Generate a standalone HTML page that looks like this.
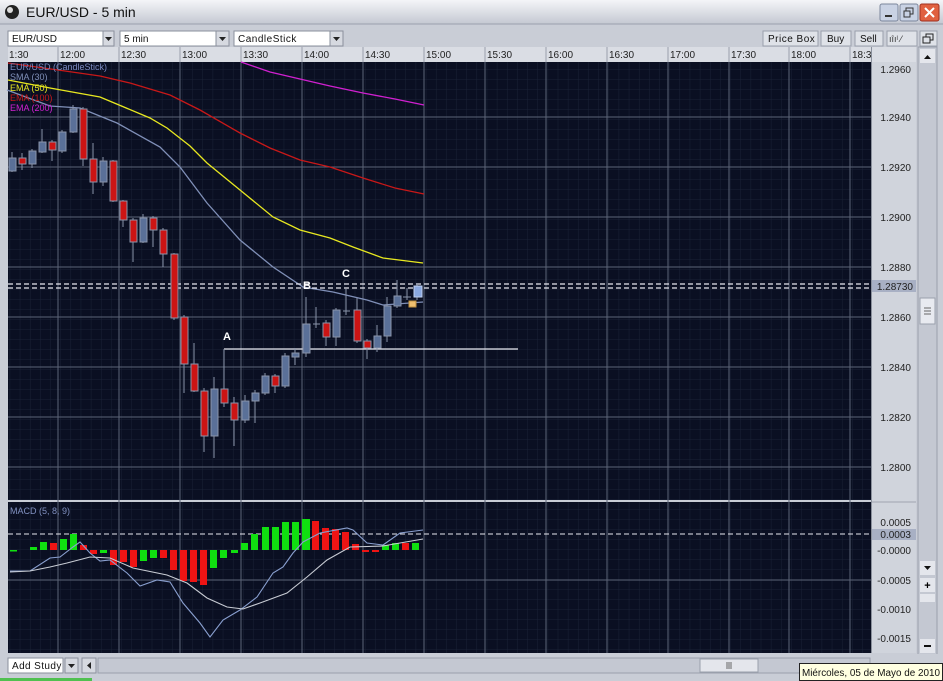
<!DOCTYPE html>
<html><head><meta charset="utf-8"><style>
body{margin:0;width:943px;height:681px;overflow:hidden;background:#c9cdd6;font-family:"Liberation Sans",sans-serif}
svg{display:block}
</style></head><body>
<svg width="943" height="681" xmlns="http://www.w3.org/2000/svg" font-family="Liberation Sans, sans-serif">
<defs>
<linearGradient id="tb" x1="0" y1="0" x2="0" y2="1"><stop offset="0" stop-color="#f4f5f8"/><stop offset="1" stop-color="#c4c8d2"/></linearGradient>
<pattern id="fg" width="10.15" height="10" patternUnits="userSpaceOnUse"><path d="M10.15 0V10M0 10H10.15" stroke="#1a2236" stroke-width="1"/></pattern>
</defs>
<rect width="943" height="681" fill="#c9cdd6"/>
<rect x="0" y="0" width="943" height="24" fill="url(#tb)"/>
<line x1="0" y1="24" x2="943" y2="24" stroke="#9aa0ad"/>
<circle cx="12" cy="12" r="7" fill="#222"/><circle cx="10" cy="10" r="3" fill="#ddd"/>
<text x="26" y="17" font-size="14" fill="#111">EUR/USD - 5 min</text>
<rect x="880" y="4" width="18" height="17" rx="2" fill="#c9d2e4" stroke="#7c879c"/><rect x="885" y="15" width="7" height="2" fill="#333"/>
<rect x="900" y="4" width="18" height="17" rx="2" fill="#c9d2e4" stroke="#7c879c"/><rect x="906" y="8" width="7" height="6" fill="none" stroke="#333"/><rect x="904" y="11" width="6" height="6" fill="#c9d2e4" stroke="#333"/>
<rect x="920" y="4" width="19" height="17" rx="2" fill="#e06040" stroke="#a03020"/><path d="M925 8L934 17M934 8L925 17" stroke="#fff" stroke-width="2"/>
<rect x="0" y="26" width="943" height="20" fill="#c9cdd6"/>
<rect x="8" y="31" width="95" height="15" fill="#fff" stroke="#8a909c"/><text x="12" y="42" font-size="10" fill="#111">EUR/USD</text>
<rect x="103" y="31" width="11" height="15" fill="#d6d9e0" stroke="#8a909c"/><path d="M105 37h7l-3.5 4z" fill="#222"/>
<rect x="120" y="31" width="96" height="15" fill="#fff" stroke="#8a909c"/><text x="124" y="42" font-size="10" fill="#111">5 min</text>
<rect x="216" y="31" width="13" height="15" fill="#d6d9e0" stroke="#8a909c"/><path d="M219 37h7l-3.5 4z" fill="#222"/>
<rect x="234" y="31" width="96" height="15" fill="#fff" stroke="#8a909c"/><text x="238" y="42" font-size="10" fill="#111" letter-spacing=".5">CandleStick</text>
<rect x="330" y="31" width="13" height="15" fill="#d6d9e0" stroke="#8a909c"/><path d="M333 37h7l-3.5 4z" fill="#222"/>
<rect x="763" y="31" width="55" height="15" fill="#dfe2e8" stroke="#9aa0ac"/><text x="768" y="42" font-size="10" fill="#111" letter-spacing=".5">Price Box</text>
<rect x="821" y="31" width="30" height="15" fill="#dfe2e8" stroke="#9aa0ac"/><text x="827" y="42" font-size="10" fill="#111">Buy</text>
<rect x="855" y="31" width="28" height="15" fill="#dfe2e8" stroke="#9aa0ac"/><text x="860" y="42" font-size="10" fill="#111">Sell</text>
<rect x="887" y="31" width="30" height="15" fill="#dfe2e8" stroke="#9aa0ac"/><text x="889" y="42" font-size="9" fill="#333">ıȋıˡ ⁄</text>
<rect x="920" y="31" width="17" height="15" fill="#dfe2e8" stroke="#9aa0ac"/><rect x="926" y="34" width="7" height="6" fill="none" stroke="#222"/><rect x="923" y="37" width="7" height="6" fill="#dfe2e8" stroke="#222"/>
<rect x="8" y="47" width="908" height="15" fill="#dadde4"/>
<g stroke="#9aa0ac"><line x1="58" y1="47" x2="58" y2="62"/><line x1="119" y1="47" x2="119" y2="62"/><line x1="180" y1="47" x2="180" y2="62"/><line x1="241" y1="47" x2="241" y2="62"/><line x1="302" y1="47" x2="302" y2="62"/><line x1="363" y1="47" x2="363" y2="62"/><line x1="424" y1="47" x2="424" y2="62"/><line x1="485" y1="47" x2="485" y2="62"/><line x1="546" y1="47" x2="546" y2="62"/><line x1="607" y1="47" x2="607" y2="62"/><line x1="668" y1="47" x2="668" y2="62"/><line x1="729" y1="47" x2="729" y2="62"/><line x1="789" y1="47" x2="789" y2="62"/><line x1="850" y1="47" x2="850" y2="62"/></g>
<g font-size="10" fill="#222"><text x="9" y="58">1:30</text><text x="60" y="58">12:00</text><text x="121" y="58">12:30</text><text x="182" y="58">13:00</text><text x="243" y="58">13:30</text><text x="304" y="58">14:00</text><text x="365" y="58">14:30</text><text x="426" y="58">15:00</text><text x="487" y="58">15:30</text><text x="548" y="58">16:00</text><text x="609" y="58">16:30</text><text x="670" y="58">17:00</text><text x="731" y="58">17:30</text><text x="791" y="58">18:00</text><text x="852" y="58">18:3</text></g>
<rect x="8" y="62" width="863" height="591" fill="#0a0f22"/>
<rect x="8" y="62" width="863" height="591" fill="url(#fg)"/>
<line x1="8" y1="501" x2="871" y2="501" stroke="#c9cdd6" stroke-width="2"/>
<g stroke="#5c6478" stroke-width="1">
<line x1="58" y1="62" x2="58" y2="653"/><line x1="119" y1="62" x2="119" y2="653"/><line x1="180" y1="62" x2="180" y2="653"/><line x1="241" y1="62" x2="241" y2="653"/><line x1="302" y1="62" x2="302" y2="653"/><line x1="363" y1="62" x2="363" y2="653"/><line x1="424" y1="62" x2="424" y2="653"/><line x1="485" y1="62" x2="485" y2="653"/><line x1="546" y1="62" x2="546" y2="653"/><line x1="607" y1="62" x2="607" y2="653"/><line x1="668" y1="62" x2="668" y2="653"/><line x1="729" y1="62" x2="729" y2="653"/><line x1="789" y1="62" x2="789" y2="653"/><line x1="850" y1="62" x2="850" y2="653"/>
<line x1="8" y1="117" x2="871" y2="117"/><line x1="8" y1="167" x2="871" y2="167"/><line x1="8" y1="217" x2="871" y2="217"/><line x1="8" y1="267" x2="871" y2="267"/><line x1="8" y1="317" x2="871" y2="317"/><line x1="8" y1="367" x2="871" y2="367"/><line x1="8" y1="417" x2="871" y2="417"/><line x1="8" y1="467" x2="871" y2="467"/>
<line x1="8" y1="580" x2="871" y2="580"/>
</g>
<g fill="none" stroke-width="1.3">
<polyline stroke="#d020d0" points="241,62 270,72 300,79 330,86 363,93 395,99 424,105"/>
<polyline stroke="#c81818" points="8,63 58,70 100,76 130,83 170,95 200,110 240,133 270,148 300,160 330,167 363,178 395,188 424,194"/>
<polyline stroke="#e8e820" points="8,80 50,88 100,97 150,118 167,128 190,146 207,163 240,190 273,217 300,230 330,238 353,247 383,258 423,263"/>
<polyline stroke="#8090b8" points="7,90 50,106 80,108 117,123 160,147 180,167 207,203 240,240 273,267 303,287 333,292 367,300 383,305 423,302"/>
</g>
<g stroke="#e8e8f0" stroke-dasharray="5,3" stroke-width="1.2"><line x1="8" y1="284" x2="871" y2="284"/><line x1="8" y1="288" x2="871" y2="288"/></g>
<line x1="224" y1="349" x2="518" y2="349" stroke="#e8e8f0" stroke-width="1.2"/>
<line x1="224" y1="349" x2="224" y2="390" stroke="#e8e8f0"/>
<g stroke="#8a94aa" stroke-width="1">
<line x1="12" y1="152" x2="12" y2="172"/><line x1="22" y1="153" x2="22" y2="170"/><line x1="32" y1="149" x2="32" y2="168"/><line x1="42" y1="129" x2="42" y2="153"/><line x1="52" y1="140" x2="52" y2="161"/><line x1="62" y1="130" x2="62" y2="153"/><line x1="73" y1="105" x2="73" y2="133"/><line x1="83" y1="107" x2="83" y2="166"/><line x1="93" y1="143" x2="93" y2="194"/><line x1="103" y1="157" x2="103" y2="186"/><line x1="113" y1="160" x2="113" y2="202"/><line x1="123" y1="200" x2="123" y2="227"/><line x1="133" y1="218" x2="133" y2="262"/><line x1="143" y1="214" x2="143" y2="243"/><line x1="153" y1="216" x2="153" y2="247"/><line x1="163" y1="228" x2="163" y2="267"/><line x1="174" y1="253" x2="174" y2="320"/><line x1="184" y1="315" x2="184" y2="393"/><line x1="194" y1="343" x2="194" y2="392"/><line x1="204" y1="388" x2="204" y2="452"/><line x1="214" y1="377" x2="214" y2="458"/><line x1="224" y1="349" x2="224" y2="407"/><line x1="234" y1="397" x2="234" y2="446"/><line x1="245" y1="395" x2="245" y2="423"/><line x1="255" y1="390" x2="255" y2="423"/><line x1="265" y1="373" x2="265" y2="395"/><line x1="275" y1="374" x2="275" y2="393"/><line x1="285" y1="353" x2="285" y2="388"/><line x1="295" y1="348" x2="295" y2="365"/><line x1="306" y1="297" x2="306" y2="357"/><line x1="316" y1="307" x2="316" y2="328"/><line x1="326" y1="320" x2="326" y2="346"/><line x1="336" y1="308" x2="336" y2="346"/><line x1="346" y1="289" x2="346" y2="315"/><line x1="357" y1="298" x2="357" y2="343"/><line x1="367" y1="339" x2="367" y2="359"/><line x1="377" y1="325" x2="377" y2="352"/><line x1="387" y1="297" x2="387" y2="342"/><line x1="397" y1="280" x2="397" y2="308"/><line x1="407" y1="288" x2="407" y2="300"/><line x1="417" y1="283" x2="417" y2="300"/>
<line x1="313" y1="324" x2="320" y2="324"/><line x1="343" y1="311" x2="350" y2="311"/><line x1="403" y1="297" x2="411" y2="297"/>
</g>
<g stroke="#8a94aa" stroke-width="1">
<g fill="#5a7098">
<rect x="9" y="158" width="7" height="13"/><rect x="29" y="151" width="7" height="13"/><rect x="39" y="142" width="7" height="10"/><rect x="59" y="132" width="7" height="19"/><rect x="70" y="109" width="7" height="23"/><rect x="100" y="161" width="7" height="21"/><rect x="140" y="218" width="7" height="24"/><rect x="211" y="389" width="7" height="47"/><rect x="242" y="401" width="7" height="19"/><rect x="252" y="393" width="7" height="8"/><rect x="262" y="376" width="7" height="17"/><rect x="282" y="356" width="7" height="30"/><rect x="292" y="353" width="7" height="4"/><rect x="303" y="324" width="7" height="29"/><rect x="333" y="310" width="7" height="27"/><rect x="374" y="336" width="7" height="12"/><rect x="384" y="306" width="7" height="30"/><rect x="394" y="296" width="7" height="10"/>
</g>
<g fill="#cc1414">
<rect x="19" y="158" width="7" height="6"/><rect x="49" y="142" width="7" height="8"/><rect x="80" y="109" width="7" height="50"/><rect x="90" y="159" width="7" height="23"/><rect x="110" y="161" width="7" height="40"/><rect x="120" y="201" width="7" height="19"/><rect x="130" y="220" width="7" height="22"/><rect x="150" y="218" width="7" height="12"/><rect x="160" y="230" width="7" height="24"/><rect x="171" y="254" width="7" height="64"/><rect x="181" y="317" width="7" height="47"/><rect x="191" y="364" width="7" height="27"/><rect x="201" y="391" width="7" height="45"/><rect x="221" y="389" width="7" height="14"/><rect x="231" y="403" width="7" height="17"/><rect x="272" y="376" width="7" height="10"/><rect x="323" y="323" width="7" height="14"/><rect x="354" y="310" width="7" height="31"/><rect x="364" y="341" width="7" height="7"/>
</g>
<rect x="409" y="301" width="7" height="6" fill="#f0c070" stroke="#c09040"/>
<rect x="414" y="286" width="8" height="11" fill="#8aa8e0" stroke="#c0d0f0"/>
</g>
<g font-size="11" font-weight="bold" fill="#fff"><text x="223" y="340">A</text><text x="303" y="289">B</text><text x="342" y="277">C</text></g>
<g font-size="9"><text x="10" y="70" fill="#7a88c0">EUR/USD (CandleStick)</text><text x="10" y="80" fill="#8090b8">SMA (30)</text><text x="10" y="91" fill="#e8e820">EMA (50)</text><text x="10" y="101" fill="#c81818">EMA (100)</text><text x="10" y="111" fill="#d020d0">EMA (200)</text>
<text x="10" y="514" fill="#8090c0">MACD (5, 8, 9)</text></g>
<line x1="8" y1="534" x2="871" y2="534" stroke="#e8e8f0" stroke-dasharray="5,3"/>
<g fill="#10e010">
<rect x="10" y="550" width="7" height="1.5"/><rect x="30" y="547" width="7" height="3"/><rect x="40" y="542" width="7" height="8"/><rect x="60" y="539" width="7" height="11"/><rect x="70" y="534" width="7" height="16"/><rect x="100" y="550" width="7" height="3"/><rect x="140" y="550" width="7" height="11"/><rect x="150" y="550" width="7" height="8"/><rect x="210" y="550" width="7" height="18"/><rect x="220" y="550" width="7" height="8"/><rect x="231" y="550" width="7" height="3"/><rect x="241" y="543" width="7" height="7"/><rect x="251" y="534" width="7" height="16"/><rect x="262" y="527" width="7" height="23"/><rect x="272" y="527" width="7" height="23"/><rect x="282" y="522" width="7" height="28"/><rect x="292" y="522" width="7" height="28"/><rect x="302" y="519" width="8" height="31"/><rect x="382" y="545" width="7" height="5"/><rect x="392" y="543" width="7" height="7"/><rect x="412" y="543" width="7" height="7"/>
</g>
<g fill="#ee1414">
<rect x="50" y="543" width="7" height="7"/><rect x="80" y="545" width="7" height="5"/><rect x="90" y="550" width="7" height="4"/><rect x="110" y="550" width="7" height="15"/><rect x="120" y="550" width="7" height="12"/><rect x="130" y="550" width="7" height="17"/><rect x="160" y="550" width="7" height="8"/><rect x="170" y="550" width="7" height="20"/><rect x="180" y="550" width="7" height="31"/><rect x="190" y="550" width="7" height="32"/><rect x="200" y="550" width="7" height="35"/><rect x="312" y="521" width="7" height="29"/><rect x="322" y="528" width="7" height="22"/><rect x="332" y="529" width="7" height="21"/><rect x="342" y="532" width="7" height="18"/><rect x="352" y="544" width="7" height="6"/><rect x="362" y="550" width="7" height="2"/><rect x="372" y="550" width="7" height="2"/><rect x="402" y="543" width="7" height="7"/>
</g>
<g fill="none" stroke-width="1.1">
<polyline stroke="#8aa0d0" points="10,571 30,571 50,558 60,557 73,547 80,542 90,553 100,561 110,560 127,573 140,586 157,580 170,582 183,603 200,623 210,637 223,620 240,610 257,597 273,573 283,567 293,553 303,542 320,533 347,528 353,530 367,543 383,545 400,533 423,530"/>
<polyline stroke="#c8ccd4" points="10,572 30,571 50,567 67,563 90,557 110,558 133,568 167,575 187,583 207,598 227,607 243,609 260,603 287,593 307,577 327,560 350,547 383,546 400,543 423,539"/>
</g>
<rect x="872" y="47" width="44" height="606" fill="#d0d4dc"/>
<rect x="872" y="47" width="44" height="15" fill="#dadde4"/>
<line x1="871.5" y1="47" x2="871.5" y2="653" stroke="#8a909c"/>
<rect x="872" y="501" width="44" height="2" fill="#b8bcc6"/>
<g font-size="10" fill="#222" text-anchor="end">
<text x="911" y="73">1.2960</text><text x="911" y="121">1.2940</text><text x="911" y="171">1.2920</text><text x="911" y="221">1.2900</text><text x="911" y="271">1.2880</text><text x="911" y="321">1.2860</text><text x="911" y="371">1.2840</text><text x="911" y="421">1.2820</text><text x="911" y="471">1.2800</text>
<text x="911" y="526">0.0005</text><text x="911" y="554">-0.0000</text><text x="911" y="584">-0.0005</text><text x="911" y="613">-0.0010</text><text x="911" y="642">-0.0015</text>
</g>
<rect x="872" y="280" width="44" height="12" fill="#a8b0c4"/><text x="913" y="290" font-size="10" fill="#222" text-anchor="end">1.28730</text>
<rect x="872" y="529" width="44" height="11" fill="#a8b0c4"/><text x="911" y="538" font-size="10" fill="#222" text-anchor="end">0.0003</text>
<rect x="918" y="47" width="19" height="608" fill="#c4c8d2" stroke="#9aa0ac"/>
<rect x="920" y="49" width="15" height="14" fill="#e4e6ec"/><path d="M924 59h7l-3.5-4z" fill="#111"/>
<rect x="920" y="298" width="15" height="26" fill="#e8eaf0" stroke="#9aa0ac"/><path d="M924 308h7M924 311h7M924 314h7" stroke="#666"/>
<rect x="920" y="561" width="15" height="14" fill="#e4e6ec"/><path d="M924 566h7l-3.5 4z" fill="#111"/>
<rect x="920" y="578" width="15" height="14" fill="#e4e6ec"/><text x="927.5" y="589" font-size="11" font-weight="bold" text-anchor="middle">+</text>
<rect x="920" y="594" width="15" height="8" fill="#e4e6ec"/>
<rect x="920" y="639" width="15" height="14" fill="#e4e6ec"/><rect x="924" y="645" width="7" height="2" fill="#111"/>
<rect x="0" y="654" width="943" height="27" fill="#c9cdd6"/>
<rect x="8" y="658" width="55" height="15" fill="#fff" stroke="#8a909c"/><text x="12" y="669" font-size="10" fill="#111" letter-spacing=".4">Add Study</text>
<rect x="65" y="658" width="13" height="15" fill="#d6d9e0" stroke="#8a909c"/><path d="M68 664h7l-3.5 4z" fill="#222"/>
<rect x="82" y="658" width="14" height="15" fill="#d6d9e0" stroke="#8a909c"/><path d="M91 662v7l-4-3.5z" fill="#222"/>
<rect x="98" y="658" width="772" height="15" fill="#c4c8d2" stroke="#9aa0ac"/>
<rect x="700" y="659" width="58" height="13" fill="#e4e6ec" stroke="#9aa0ac"/><path d="M727 662v7M729 662v7M731 662v7" stroke="#666"/>
<rect x="0" y="678" width="92" height="3" fill="#50c050"/>
<rect x="799.5" y="663.5" width="143" height="17" fill="#ffffe1" stroke="#222"/><text x="802" y="676" font-size="10" fill="#111" textLength="138" lengthAdjust="spacingAndGlyphs">Miércoles, 05 de Mayo de 2010</text>
</svg>
</body></html>
